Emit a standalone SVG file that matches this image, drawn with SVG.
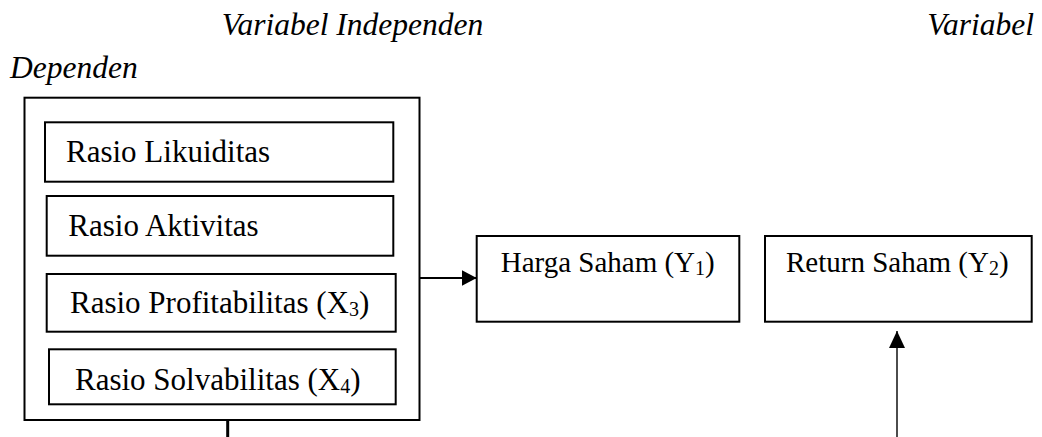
<svg xmlns="http://www.w3.org/2000/svg" width="1042" height="437" viewBox="0 0 1042 437">
<defs>
<style>
.box{fill:none;stroke:#000;stroke-width:2}
.t{font-family:"Liberation Serif","Times New Roman",serif;fill:#000}
.big{font-size:31px}
.mid{font-size:29px}
.hdr{font-size:31.5px;font-style:italic}
.sub{font-size:20px}
.ln{stroke:#000;fill:none}
</style>
<marker id="ah" markerWidth="16" markerHeight="16" refX="15" refY="8" orient="auto" markerUnits="userSpaceOnUse">
<path d="M0,0 L15,8 L0,16 Z" fill="#000"/>
</marker>
<marker id="ah2" markerWidth="18" markerHeight="16" refX="17" refY="8" orient="auto" markerUnits="userSpaceOnUse">
<path d="M0,0 L17,8 L0,16 Z" fill="#000"/>
</marker>
</defs>
<rect width="1042" height="437" fill="#fff"/>
<g id="headers">
<text class="t hdr" x="221.7" y="35">Variabel Independen</text>
<text class="t hdr" x="927.3" y="35">Variabel</text>
<text class="t hdr" x="10" y="78">Dependen</text>
</g>
<g id="independen">
<rect class="box" x="24.5" y="97.7" width="395" height="322.3"/>
<g id="likuiditas">
<rect class="box" x="45" y="122.3" width="348.3" height="59.4"/>
<text class="t big" x="66" y="161.7">Rasio Likuiditas</text>
</g>
<g id="aktivitas">
<rect class="box" x="46.7" y="196" width="346.6" height="59.7"/>
<text class="t big" x="68.3" y="236">Rasio Aktivitas</text>
</g>
<g id="profitabilitas">
<rect class="box" x="46.7" y="274" width="349" height="57.7"/>
<text class="t big" x="70" y="313.3">Rasio Profitabilitas (X<tspan class="sub" dy="3">3</tspan><tspan dy="-3">)</tspan></text>
</g>
<g id="solvabilitas">
<rect class="box" x="49" y="349.3" width="346.7" height="55"/>
<text class="t big" x="75" y="390">Rasio Solvabilitas (X<tspan class="sub" dy="3">4</tspan><tspan dy="-3">)</tspan></text>
</g>
</g>
<g id="harga">
<rect class="box" x="476.7" y="236" width="262.6" height="85.7"/>
<text class="t mid" x="500.7" y="272">Harga Saham (Y<tspan class="sub" dy="3">1</tspan><tspan dy="-3">)</tspan></text>
</g>
<g id="return">
<rect class="box" x="765" y="236" width="266.7" height="85.7"/>
<text class="t mid" x="786" y="272">Return Saham (Y<tspan class="sub" dy="3">2</tspan><tspan dy="-3">)</tspan></text>
</g>
<g id="connectors">
<line class="ln" x1="420" y1="278" x2="476.7" y2="278" stroke-width="2" marker-end="url(#ah)"/>
<line class="ln" x1="897" y1="437" x2="897" y2="331" stroke-width="1.4" marker-end="url(#ah2)"/>
<line class="ln" x1="227.7" y1="420" x2="227.7" y2="437" stroke-width="3"/>
</g>
</svg>
